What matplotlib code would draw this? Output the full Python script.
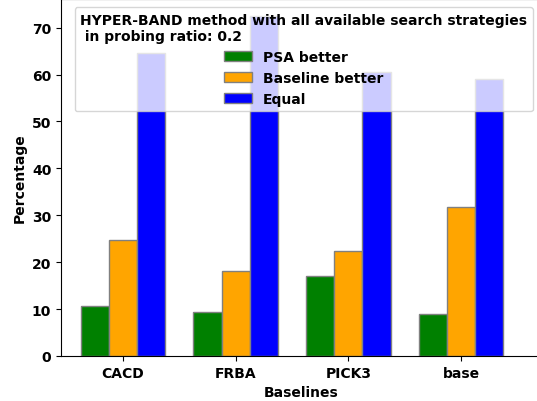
import numpy as np
import matplotlib.pyplot as plt

# Data
baselines = ['CACD', 'FRBA', 'PICK3', 'base']
psa_better = [10.6, 9.4, 17.0, 9.0]
baseline_better = [24.8, 18.2, 22.3, 31.8]
equal = [64.5, 72.5, 60.5, 59.0]

plt.rcParams['font.weight'] = 'bold'
plt.rcParams['axes.labelweight'] = 'bold'

fig = plt.figure(figsize=(5.37, 4.02), dpi=100)
ax = fig.add_axes([61 / 537, 45 / 402, 480 / 537, 357 / 402])

w = 0.25
x = np.arange(len(baselines))
ax.bar(x - w, psa_better, w, color='green', edgecolor='grey', label='PSA better')
ax.bar(x, baseline_better, w, color='orange', edgecolor='grey', label='Baseline better')
ax.bar(x + w, equal, w, color='blue', edgecolor='grey', label='Equal')

ax.set_xticks(x)
ax.set_xticklabels(baselines, fontweight='bold')
ax.set_xlim(-0.55, 3.71)
ax.set_ylim(0, 76.1)
ax.set_xlabel('Baselines', fontweight='bold')
ax.set_ylabel('Percentage', fontweight='bold')

ax.legend(title='HYPER-BAND method with all available search strategies\n in probing ratio: 0.2',
          loc='upper right', prop={'weight': 'bold'},
          title_fontproperties={'weight': 'bold'}, borderaxespad=0.6)

plt.savefig('out.png', dpi=100)
